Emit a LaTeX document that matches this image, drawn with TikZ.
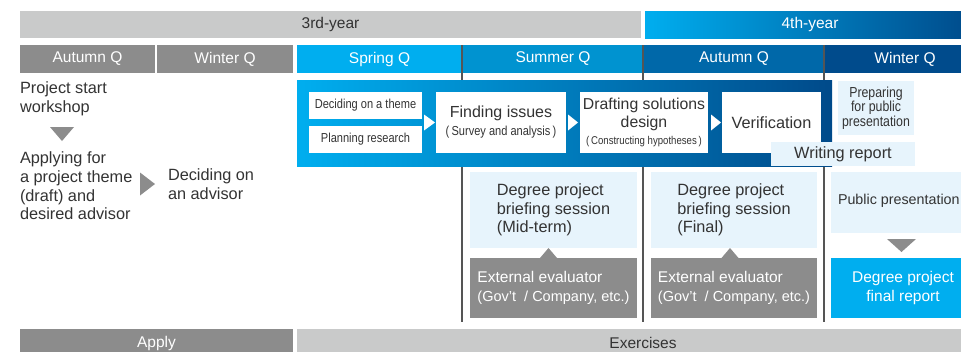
\documentclass[tikz,border=0pt]{standalone}
\usepackage{fontspec}
\setmainfont{Liberation Sans}
\newfontfamily\narrowfont[FakeStretch=0.85]{Liberation Sans}
\usetikzlibrary{calc}
\definecolor{txt}{HTML}{333333}
\definecolor{gdark}{HTML}{8C8C8C}
\definecolor{glight}{HTML}{C9CACA}
\definecolor{cy}{HTML}{00AEEF}
\definecolor{qsum}{HTML}{0093D0}
\definecolor{qaut}{HTML}{0068A9}
\definecolor{qwin}{HTML}{004B8C}
\definecolor{navy}{HTML}{004A8A}
\definecolor{pale}{HTML}{E7F4FC}
\definecolor{sepc}{HTML}{555555}
\newcommand\fs[2]{\fontsize{#1}{#2}\selectfont}
\begin{document}
\begin{tikzpicture}[x=1pt,y=-1pt,
  every node/.style={inner sep=0pt, outer sep=0pt, font=\fs{15.5}{18.5}, text=txt},
  body/.style={font=\fs{16.3}{18.7}},
  yearbar/.style={minimum height=27pt},
  qbar/.style={minimum height=28pt, text=white},
  wbox/.style={fill=white},
  pbox/.style={fill=pale},
  gbox/.style={fill=gdark, text=white},
  sepline/.style={draw=sepc, line width=1.3pt},
  grad/.style={shading=axis, left color=cy, right color=navy},
  ]
\useasboundingbox (0,0) rectangle (961,351);

% year bars
\node[yearbar, fill=glight, minimum width=621pt] (y3) at (330.5,24.5) {3rd-year};
\node[yearbar, grad, minimum width=330pt, text=white] (y4) at (810,24.5) {4th-year};

% quarter bars
\node[qbar, fill=gdark, minimum width=135pt] (qa3) at (87.5,59) {Autumn Q};
\node[qbar, fill=gdark, minimum width=136pt] (qw3) at (225,59) {Winter Q};
\node[qbar, fill=cy, minimum width=165pt] (qsp) at (379.5,59) {Spring Q};
\node[qbar, fill=qsum, minimum width=180pt] (qsu) at (553,59) {Summer Q};
\node[qbar, fill=qaut, minimum width=180pt] (qau) at (734,59) {Autumn Q};
\node[qbar, fill=qwin, minimum width=160pt] (qwi) at (905,59) {Winter Q};

% lower boxes
\node[pbox, body, minimum width=167pt, minimum height=76pt, align=left] (mid) at (553.5,210) {Degree project\\briefing session\\(Mid-term)};
\node[pbox, body, minimum width=166pt, minimum height=76pt, align=left] (fin) at (734,210) {Degree project\\briefing session\\(Final)};
\node[pbox, minimum width=144pt, minimum height=61pt] (pub) at (903,202.5) {};
\node[anchor=west, font=\fs{14.3}{17}] (pubt) at (838,201) {Public presentation};
\node[gbox, minimum width=167pt, minimum height=60pt, align=left] (ext1) at (553.5,288) {External evaluator\\{\fs{14.5}{19}(Gov't~ / Company, etc.)}};
\node[gbox, minimum width=166pt, minimum height=60pt, align=left] (ext2) at (734,288) {External evaluator\\{\fs{14.5}{19}(Gov't~ / Company, etc.)}};
\node[fill=cy, text=white, minimum width=144pt, minimum height=60pt, align=center] (rep) at (903,288) {Degree project\\final report};

% separators
\draw[sepline] (qsp.north east) -- ([yshift=-4pt]qsp.north east |- ext1.south);
\draw[sepline] (qsu.north east) -- ([yshift=-4pt]qsu.north east |- ext1.south);
\draw[sepline] (qau.north east) -- ([yshift=-4pt]qau.north east |- ext1.south);

% pointers on evaluator boxes
\fill[gdark] ([xshift=-13.5pt]ext1.north) -- ([xshift=-5pt,yshift=10pt]ext1.north) -- ([xshift=3.5pt]ext1.north) -- cycle;
\fill[gdark] ([xshift=-12.5pt]ext2.north) -- ([xshift=-4pt,yshift=10pt]ext2.north) -- ([xshift=4.5pt]ext2.north) -- cycle;
\fill[gdark] ([xshift=-16pt,yshift=-6pt]pub.south) -- ([xshift=13pt,yshift=-6pt]pub.south) -- ([xshift=-1.5pt,yshift=-19pt]pub.south) -- cycle;

% big process box
\node[grad, minimum width=535pt, minimum height=86pt] (big) at (564.5,123) {};
\node[wbox, minimum width=113pt, minimum height=27pt, font=\narrowfont\fs{13}{15}] (theme) at (365.5,105.5) {Deciding on a theme};
\node[wbox, minimum width=113pt, minimum height=27pt, font=\narrowfont\fs{13}{15}] (plan) at (365.5,139.5) {Planning research};
\node[wbox, minimum width=130pt, minimum height=61pt, align=center, font=\fs{16}{18}] (find) at (501,122.5) {Finding issues\\{\narrowfont\fs{13}{15}(\,Survey and analysis\,)}};
\node[wbox, minimum width=128pt, minimum height=61pt, align=center, font=\fs{15.8}{18.5}] (draft) at (644,122.5) {Drafting solutions\\design\\[-1.5pt]{\narrowfont\fs{11.3}{12}(\,Constructing hypotheses\,)}};
\node[wbox, minimum width=99pt, minimum height=61pt, font=\fs{16.3}{18}] (verif) at (771.5,122.5) {Verification};
\node[pbox, minimum width=144pt, minimum height=24pt, font=\fs{16.3}{18}] (write) at (843,154) {Writing report};
\node[pbox, minimum width=76pt, minimum height=54pt, align=center, font=\narrowfont\fs{14.5}{14.5}] (prep) at (876,108) {Preparing\\for public\\presentation};

% white flow arrows
\fill[white] ([xshift=-12pt,yshift=8pt]find.west) -- ([xshift=-1pt]find.west) -- ([xshift=-12pt,yshift=-8pt]find.west) -- cycle;
\fill[white] ([xshift=-12pt,yshift=8pt]draft.west) -- ([xshift=-2pt]draft.west) -- ([xshift=-12pt,yshift=-8pt]draft.west) -- cycle;
\fill[white] ([xshift=-11pt,yshift=8pt]verif.west) -- ([xshift=-1pt]verif.west) -- ([xshift=-11pt,yshift=-8pt]verif.west) -- cycle;

% left column
\node[body, anchor=west, align=left] (ws) at (20,99) {Project start\\workshop};
\node[body, anchor=west, align=left] (appl) at (20,186) {Applying for\\a project theme\\(draft) and\\desired advisor};
\node[body, anchor=west, align=left] (adv) at (168,184) {Deciding on\\an advisor};
\fill[gdark] (50,127) -- (74,127) -- (62,141) -- cycle;
\fill[gdark] ([xshift=-28pt,yshift=11.5pt]adv.west) -- ([xshift=-13pt]adv.west) -- ([xshift=-28pt,yshift=-11.5pt]adv.west) -- cycle;

% bottom bars
\node[gbox, minimum width=273pt, minimum height=28pt] (apply) at (156.5,343) {Apply};
\node[fill=glight, minimum width=692pt, minimum height=28pt] (exer) at (643,343) {Exercises};
\end{tikzpicture}
\end{document}
